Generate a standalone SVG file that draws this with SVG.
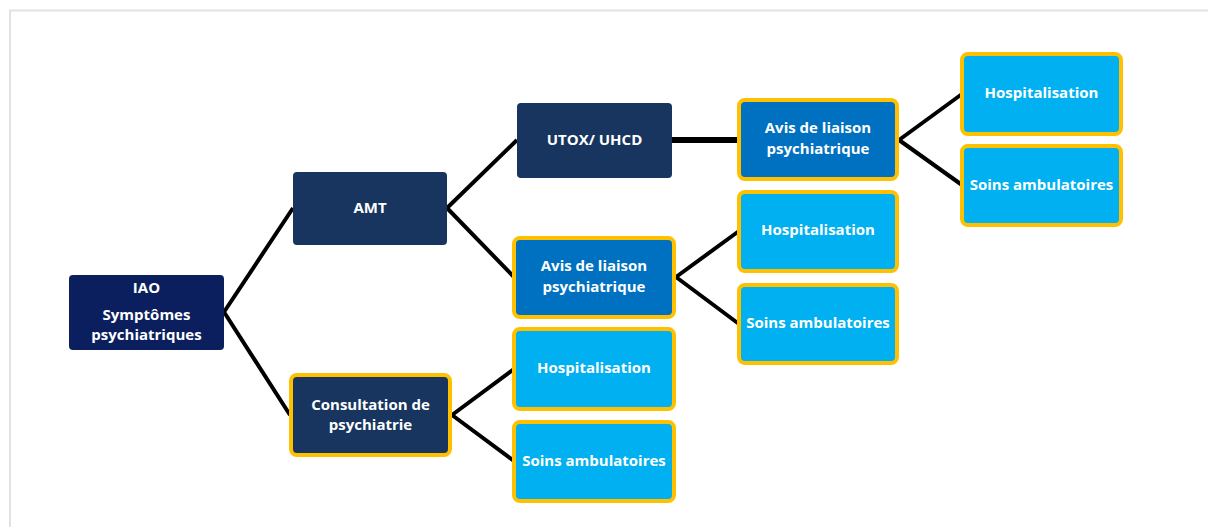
<svg xmlns="http://www.w3.org/2000/svg" width="1208" height="527" viewBox="0 0 1208 527">
<style>
.t{font-family:"Open Sans","Liberation Sans",sans-serif;font-weight:bold;font-size:15px;fill:#ffffff;text-anchor:middle}
.dk{fill:#0b1f5e}
.nv{fill:#17355e}
.md{fill:#0070c0}
.lb{fill:#00b0f0}
.y{stroke:#ffc000;stroke-width:4}
.c{stroke:#000;stroke-width:4;fill:none}
</style>
<rect width="1208" height="527" fill="#fff"/>
<path d="M10 527V10.5H1208" fill="none" stroke="#e2e2e2" stroke-width="2"/>
<g id="connectors">
<path class="c" d="M224 312L293 208M224 312L290 415"/>
<path class="c" d="M447 208L517 140M447 208L514 277"/>
<path class="c" d="M672 140H739" style="stroke-width:6"/>
<path class="c" d="M899 140L962 94M899 140L962 185"/>
<path class="c" d="M676 277L739 231M676 277L739 324"/>
<path class="c" d="M452 415L514 369M452 415L514 461"/>
</g>
<g id="iao"><rect class="dk" x="69" y="275" width="155" height="75" rx="4"/>
<text class="t" x="146.5" y="293">IAO</text><text class="t" x="146.5" y="320">Symptômes</text><text class="t" x="146.5" y="340">psychiatriques</text></g>
<g id="amt"><rect class="nv" x="293" y="172" width="154" height="73" rx="4"/>
<text class="t" x="370" y="213">AMT</text></g>
<g id="consult"><rect class="nv y" x="291" y="375" width="159" height="80" rx="6"/>
<text class="t" x="370.5" y="410">Consultation de</text><text class="t" x="370.5" y="430">psychiatrie</text></g>
<g id="utox"><rect class="nv" x="517" y="103" width="155" height="75" rx="4"/>
<text class="t" x="594.5" y="145">UTOX/ UHCD</text></g>
<g id="avis1"><rect class="md y" x="739" y="100" width="158" height="79" rx="6"/>
<text class="t" x="818" y="133">Avis de liaison</text><text class="t" x="818" y="154">psychiatrique</text></g>
<g id="avis2"><rect class="md y" x="514" y="238" width="160" height="79" rx="6"/>
<text class="t" x="594" y="271">Avis de liaison</text><text class="t" x="594" y="292">psychiatrique</text></g>
<g id="hosp1"><rect class="lb y" x="962" y="54" width="159" height="80" rx="6"/>
<text class="t" x="1041.5" y="98">Hospitalisation</text></g>
<g id="soins1"><rect class="lb y" x="962" y="146" width="159" height="79" rx="6"/>
<text class="t" x="1041.5" y="190">Soins ambulatoires</text></g>
<g id="hosp2"><rect class="lb y" x="739" y="192" width="158" height="79" rx="6"/>
<text class="t" x="818" y="235">Hospitalisation</text></g>
<g id="soins2"><rect class="lb y" x="739" y="285" width="158" height="78" rx="6"/>
<text class="t" x="818" y="328">Soins ambulatoires</text></g>
<g id="hosp3"><rect class="lb y" x="514" y="329" width="160" height="80" rx="6"/>
<text class="t" x="594" y="373">Hospitalisation</text></g>
<g id="soins3"><rect class="lb y" x="514" y="422" width="160" height="79" rx="6"/>
<text class="t" x="594" y="466">Soins ambulatoires</text></g>
</svg>
